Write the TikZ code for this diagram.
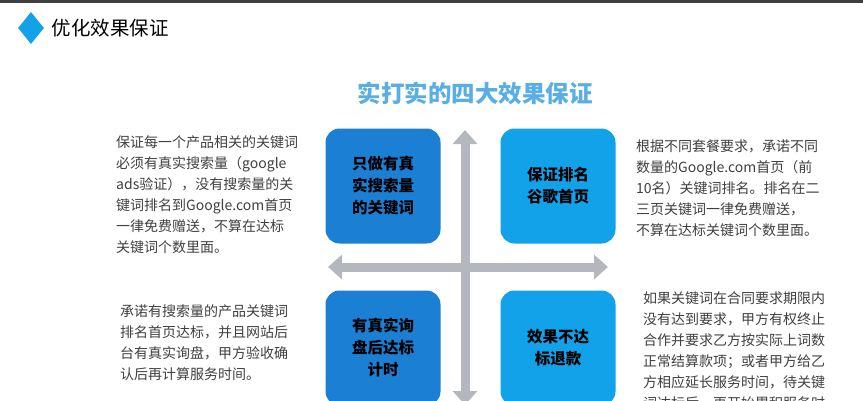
\documentclass[tikz,border=0pt]{standalone}
\usepackage{fontspec}
\setmainfont{Noto Sans CJK SC}
\usetikzlibrary{arrows.meta,shapes.geometric,positioning}
\definecolor{boxdark}{HTML}{1B7FD4}
\definecolor{boxlight}{HTML}{12A2EA}
\definecolor{ttlblue}{HTML}{5AAEE6}
\definecolor{arrgray}{HTML}{B4B8BE}
\tikzset{
  quad/.style={rounded corners=14pt, minimum width=115pt, minimum height=115pt,
    align=center, font=\fontsize{15.5}{22}\selectfont\bfseries, text=black},
  para/.style={align=left, text width=200pt, text=black!75,
    font=\fontsize{14}{21}\selectfont, inner sep=0pt},
  bigarrow/.style={draw=arrgray, line width=9pt, {Triangle[width=24pt,length=14pt]}-{Triangle[width=24pt,length=14pt]}}
}
\begin{document}
\begin{tikzpicture}[x=1pt,y=-1pt]
\useasboundingbox (0,0) rectangle (863,400);
\clip (0,0) rectangle (863,400);
\fill[white] (0,0) rectangle (863,400);
\fill[black!75] (0,0) rectangle (863,3);
% header
\node[diamond, fill=boxlight, minimum width=26pt, minimum height=32pt, inner sep=0pt] (mark) at (31,28) {};
\node[right=4pt of mark, font=\fontsize{19.5}{22}\selectfont] (head) {优化效果保证};
\node[font=\fontsize{23.5}{26}\selectfont\bfseries, text=ttlblue] (title) at (475,93) {实打实的四大效果保证};
% cross
\coordinate (up) at (465,130);
\coordinate (down) at (465,405);
\coordinate (left) at (328,267);
\coordinate (right) at (608,267);
\draw[bigarrow] (up) -- (down);
\draw[bigarrow] (left) -- (right);
% boxes
\node[quad, fill=boxdark] (q1) at (383,186) {只做有真\\实搜索量\\的关键词};
\node[quad, fill=boxlight] (q2) at (558,186) {保证排名\\谷歌首页};
\node[quad, fill=boxdark] (q3) at (383,348) {有真实询\\盘后达标\\计时};
\node[quad, fill=boxlight] (q4) at (558,348) {效果不达\\标退款};
% texts
\node[para, text width=192pt, anchor=north west] (t1) at (116,135) {保证每一个产品相关的关键词\\必须有真实搜索量（google\\ads验证），没有搜索量的关\\键词排名到Google.com首页\\一律免费赠送，不算在达标\\关键词个数里面。};
\node[para, anchor=north west] (t2) at (636,140) {根据不同套餐要求，承诺不同\\数量的Google.com首页（前\\10名）关键词排名。排名在二\\三页关键词一律免费赠送，\\不算在达标关键词个数里面。};
\node[para, anchor=north west] (t3) at (120,304) {承诺有搜索量的产品关键词\\排名首页达标，并且网站后\\台有真实询盘，甲方验收确\\认后再计算服务时间。};
\node[para, anchor=north west] (t4) at (643,291) {如果关键词在合同要求期限内\\没有达到要求，甲方有权终止\\合作并要求乙方按实际上词数\\正常结算款项；或者甲方给乙\\方相应延长服务时间，待关键\\词达标后，再开始累积服务时};
\end{tikzpicture}
\end{document}
